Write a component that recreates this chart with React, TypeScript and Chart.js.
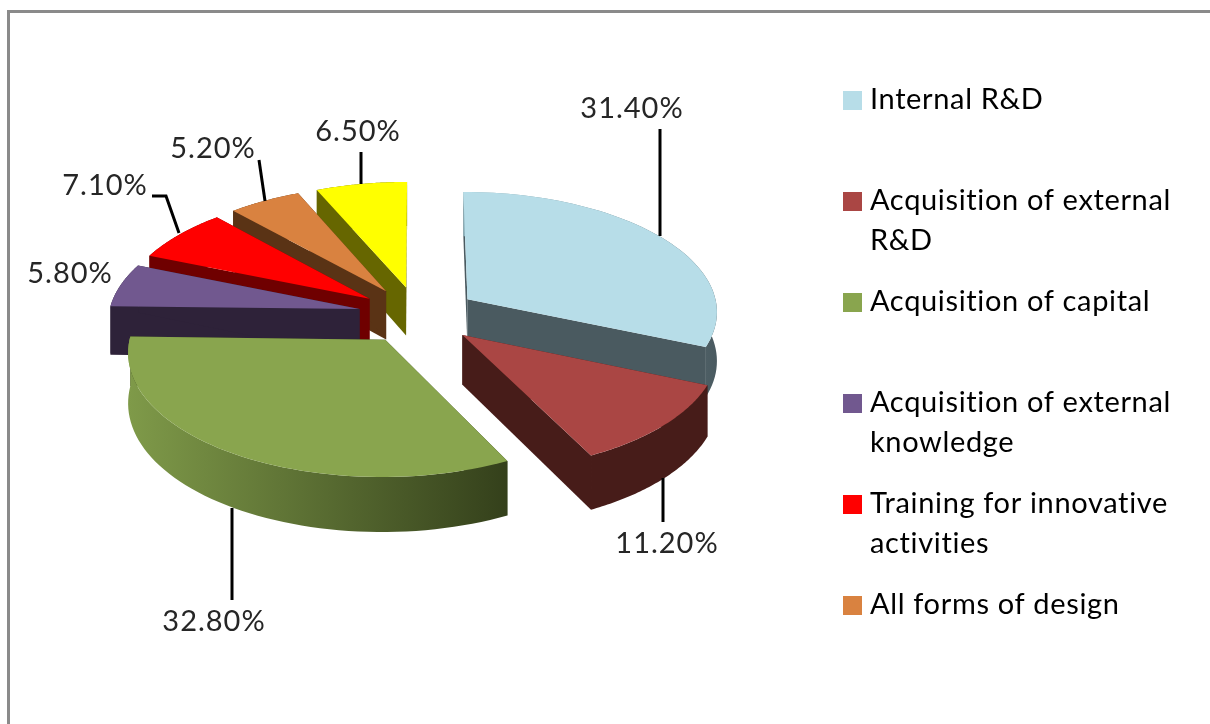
import React, { useEffect, useRef } from "react";
import { Chart, registerables } from "chart.js";

Chart.register(...registerables);

const categories = [
  "Internal R&D",
  "Acquisition of external R&D",
  "Acquisition of capital",
  "Acquisition of external knowledge",
  "Training for innovative activities",
  "All forms of design",
  "",
];
const values = [31.4, 11.2, 32.8, 5.8, 7.1, 5.2, 6.5];
const legendLines = [
  ["Internal R&D", ""],
  ["Acquisition of external", "R&D"],
  ["Acquisition of capital", ""],
  ["Acquisition of external", "knowledge"],
  ["Training for innovative", "activities"],
  ["All forms of design", ""],
];
const topColors = ["#B7DDE8", "#AA4644", "#89A54E", "#71588F", "#FF0000", "#D98240", "#FFFF00"];
const wallColors = ["#4A5A60", "#471C19", "#36421C", "#2E2239", "#6F0000", "#5A3315", "#666600"];
const rimFrom = ["#8FB4BE", "#471C19", "#7F9A49", "#2E2239", "#6F0000", "#5A3315", "#666600"];
const rimTo = ["#4A5A60", "#471C19", "#34401B", "#2E2239", "#6F0000", "#5A3315", "#666600"];
const paintOrder = [6, 5, 4, 3, 2, 0, 1];

const labelLayout = [
  { x: 632, y: 109, leader: [[660, 129], [660, 236]] },
  { x: 667, y: 544, leader: [[663, 478], [663, 522]] },
  { x: 214, y: 622, leader: [[232, 508], [232, 600]] },
  { x: 70, y: 274, leader: [] },
  { x: 105, y: 186, leader: [[152, 196], [166, 196], [179, 233]] },
  { x: 213, y: 149, leader: [[259, 160], [265, 201]] },
  { x: 358, y: 132, leader: [[361, 152], [361, 184]] },
];

const FONT = "Lato";
const RADIUS = 251;
const EXPLODE = 60;
const DEPTH = 49;
const TILT = 0.478;
const PERSPECTIVE = 2745;
const LEGEND_SPACING = "0.65px";

const pie3d = {
  id: "pie3d",
  beforeLayout(chart: any) {
    chart.ctx.letterSpacing = LEGEND_SPACING;
  },
  beforeDraw(chart: any) {
    const { ctx } = chart;
    ctx.letterSpacing = LEGEND_SPACING;
    ctx.save();
    ctx.fillStyle = "#FFFFFF";
    ctx.fillRect(0, 0, chart.width, chart.height);
    ctx.strokeStyle = "#8A8A8A";
    ctx.lineWidth = 3;
    ctx.beginPath();
    ctx.moveTo(8.5, chart.height);
    ctx.lineTo(8.5, 11.5);
    ctx.lineTo(chart.width, 11.5);
    ctx.stroke();
    ctx.restore();
  },
  beforeDatasetDraw(chart: any) {
    const { ctx } = chart;
    const arcs = chart.getDatasetMeta(0).data;
    const cx = 418;
    const cy = 315;
    const project = (u: number, v: number, drop: number) => {
      const s = 1 / (1 - v / PERSPECTIVE);
      return [cx + u * s, cy + TILT * v * s + drop * s];
    };
    const poly = (pts: number[][], fill: any) => {
      ctx.beginPath();
      pts.forEach((p, i) => (i ? ctx.lineTo(p[0], p[1]) : ctx.moveTo(p[0], p[1])));
      ctx.closePath();
      ctx.fillStyle = fill;
      ctx.fill();
    };
    ctx.save();
    paintOrder.forEach((i) => {
      const arc = arcs[i];
      const { startAngle, endAngle, outerRadius } = arc;
      const mid = (startAngle + endAngle) / 2;
      const ox = Math.cos(mid) * EXPLODE;
      const oy = Math.sin(mid) * EXPLODE;
      const ring: number[][] = [];
      const steps = 60;
      for (let k = 0; k <= steps; k++) {
        const a = startAngle + ((endAngle - startAngle) * k) / steps;
        ring.push([ox + Math.cos(a) * outerRadius, oy + Math.sin(a) * outerRadius]);
      }
      const top = ring.map((p) => project(p[0], p[1], 0));
      const bottom = ring.map((p) => project(p[0], p[1], DEPTH));
      const apexTop = project(ox, oy, 0);
      const apexBottom = project(ox, oy, DEPTH);
      poly([apexTop, top[0], bottom[0], apexBottom], wallColors[i]);
      poly([apexTop, top[steps], bottom[steps], apexBottom], wallColors[i]);
      const xs = top.map((p) => p[0]);
      const grad = ctx.createLinearGradient(Math.min(...xs), 0, Math.max(...xs), 0);
      grad.addColorStop(0, rimFrom[i]);
      grad.addColorStop(1, rimTo[i]);
      poly([...top, ...bottom.slice().reverse()], grad);
      poly([apexTop, ...top], arc.options.backgroundColor);
    });
    ctx.restore();
    return false;
  },
  afterDatasetsDraw(chart: any) {
    const { ctx } = chart;
    ctx.save();
    ctx.strokeStyle = "#000000";
    ctx.lineWidth = 3;
    ctx.fillStyle = "#262626";
    ctx.font = `29px ${FONT}`;
    ctx.letterSpacing = "1px";
    ctx.textAlign = "center";
    ctx.textBaseline = "middle";
    values.forEach((v, i) => {
      const l = labelLayout[i];
      ctx.fillText(`${v.toFixed(2)}%`, l.x, l.y);
      if (l.leader.length) {
        ctx.beginPath();
        l.leader.forEach((p, k) => (k ? ctx.lineTo(p[0], p[1]) : ctx.moveTo(p[0], p[1])));
        ctx.stroke();
      }
    });
    ctx.restore();
  },
};

const swatch = (color: string) => {
  const c = document.createElement("canvas");
  c.width = 19;
  c.height = 19;
  const g = c.getContext("2d")!;
  g.fillStyle = color;
  g.fillRect(0, 0, 19, 19);
  return c;
};

export default function App() {
  const ref = useRef<HTMLCanvasElement>(null);
  useEffect(() => {
    const chart = new Chart(ref.current!, {
      type: "pie",
      data: {
        labels: categories,
        datasets: [{ data: values, backgroundColor: topColors, borderWidth: 0 }],
      },
      options: {
        animation: false,
        responsive: false,
        devicePixelRatio: 1,
        radius: RADIUS,
        layout: { padding: { top: 32, right: 29, bottom: 0, left: 0 } },
        plugins: {
          tooltip: { enabled: false },
          legend: {
            position: "right",
            align: "center",
            labels: {
              font: { family: FONT, size: 29, lineHeight: 40 / 29 },
              color: "#262626",
              padding: 21,
              usePointStyle: true,
              pointStyleWidth: 6,
              generateLabels: () =>
                legendLines.map((text, i) => ({
                  text,
                  fillStyle: topColors[i],
                  strokeStyle: topColors[i],
                  lineWidth: 0,
                  pointStyle: swatch(topColors[i]),
                  hidden: false,
                  index: i,
                })) as any,
            },
          },
        },
      } as any,
      plugins: [pie3d as any],
    });
    return () => chart.destroy();
  }, []);
  return (
    <canvas
      ref={ref}
      width={1210}
      height={724}
      style={{ position: "fixed", left: 0, top: 0, display: "block" }}
    />
  );
}
